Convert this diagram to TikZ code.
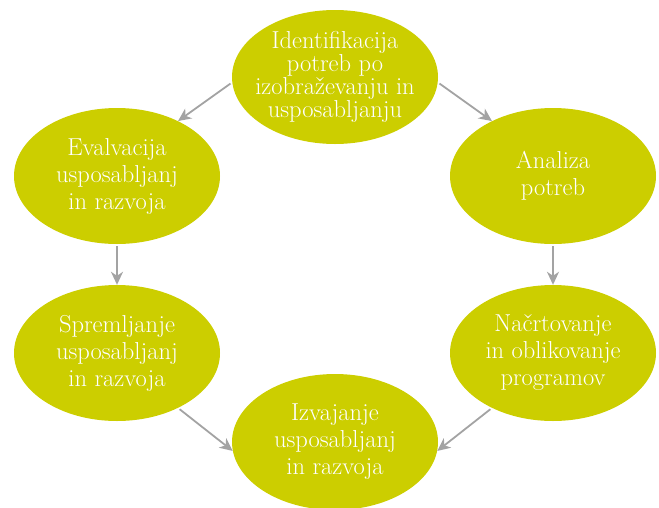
\documentclass[tikz,border=0pt]{standalone}
\usepackage{fontspec}
\usepackage{xcolor}
\usepackage{tikz}
\usetikzlibrary{shapes.geometric, arrows.meta, positioning}
\definecolor{cyclefill}{RGB}{204,206,0}
\definecolor{arrowgrey}{RGB}{163,163,163}

\begin{document}
\begin{tikzpicture}[x=1pt, y=-1pt, node distance=177pt and 218pt, on grid, >={Stealth[length=13pt, width=12pt, inset=4pt]}]
    \tikzset{
        phase/.style={ellipse, fill=cyclefill, minimum width=206pt, minimum height=136pt, inner xsep=-12pt, inner ysep=0pt, align=center, text=white, font=\fontsize{24.5}{27}\selectfont},
        line/.style={draw=arrowgrey, ->, line width=1.8pt, shorten <=2pt}
    }
    \useasboundingbox (0,0) rectangle (659,507);

    \node (Identif) [phase, minimum height=134pt, font=\fontsize{24.5}{23}\selectfont] at (335,77) {Identifikacija\\potreb po\\izobraževanju in\\usposabljanju};
    \node (Evalv) [phase, below left=99pt and 218pt of Identif] {Evalvacija\\usposabljanj\\in razvoja};
    \node (Analiza) [phase, below right=99pt and 218pt of Identif] {Analiza\\potreb};
    \node (Spreml) [phase, below=177pt of Evalv] {Spremljanje\\usposabljanj\\in razvoja};
    \node (Nacrt) [phase, below=177pt of Analiza] {Načrtovanje\\in oblikovanje\\programov};
    \node (Izvaj) [phase, below right=89pt and 218pt of Spreml] {Izvajanje\\usposabljanj\\in razvoja};

    \path [line] (Identif.183) -- (Evalv.42);
    \path [line] (Identif.357) -- (Analiza.138);
    \path [line] (Evalv.south) -- (Spreml.north);
    \path [line] (Analiza.south) -- (Nacrt.north);
    \path [line] (Spreml.318) -- (Izvaj.185);
    \path [line] (Nacrt.222) -- (Izvaj.355);

\end{tikzpicture}
\end{document}
